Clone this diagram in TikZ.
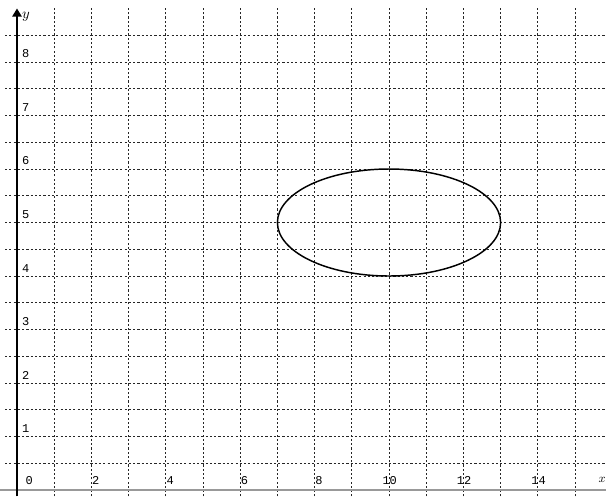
\documentclass[tikz,border=0pt]{standalone}
\usepackage{fontspec}
\newfontfamily\labfont{Liberation Mono}
\usetikzlibrary{arrows.meta}
\begin{document}
\begin{tikzpicture}[x=27.9pt,y=40.125pt,
  gridline/.style={black!85,line width=0.5pt,dash pattern=on 1.6pt off 1.6pt},
  axisline/.style={line width=0.9pt},
  ticklab/.style={font=\labfont\fontsize{9}{10}\selectfont,inner sep=0pt},
  xlabstyle/.style={ticklab,anchor=south east},
  ylabstyle/.style={ticklab,anchor=south west}]
\useasboundingbox (-0.457,-0.112) rectangle (15.833,9.159);
% grid
\foreach \i in {1,...,15} \draw[gridline] (\i,-0.12) -- (\i,9.03);
\foreach \j in {1,...,17} \draw[gridline] (-0.32,\j/2) -- (15.9,\j/2);
% axes
\coordinate (xs) at (-0.46,0);
\coordinate (xe) at (16.0,0);
\coordinate (ys) at (0,-0.12);
\coordinate (ye) at (0,9.0);
\draw[axisline,gray!80] (xs) -- (xe);
\draw[axisline,-{Triangle[length=6pt,width=7pt]}] (ys) -- (ye);
\node[font=\fontsize{11}{12}\selectfont,anchor=north west,inner sep=0pt] (ylab) at (0.13,8.93) {$y$};
\node[font=\fontsize{9}{10}\selectfont,anchor=south east,inner sep=0pt] (xlab) at (15.83,0.14) {$x$};
% labels
\node[xlabstyle] (x0) at (0.43,0.09) {0};
\foreach \k in {2,4,...,14} \node[xlabstyle] (x\k) at (\k+0.22,0.09) {\k};
\foreach \k in {1,...,8} \node[ylabstyle] (y\k) at (0.13,\k+0.07) {\k};
% ellipse
\draw[line width=1.1pt] (10,5) ellipse [x radius=3, y radius=1];
\end{tikzpicture}
\end{document}
